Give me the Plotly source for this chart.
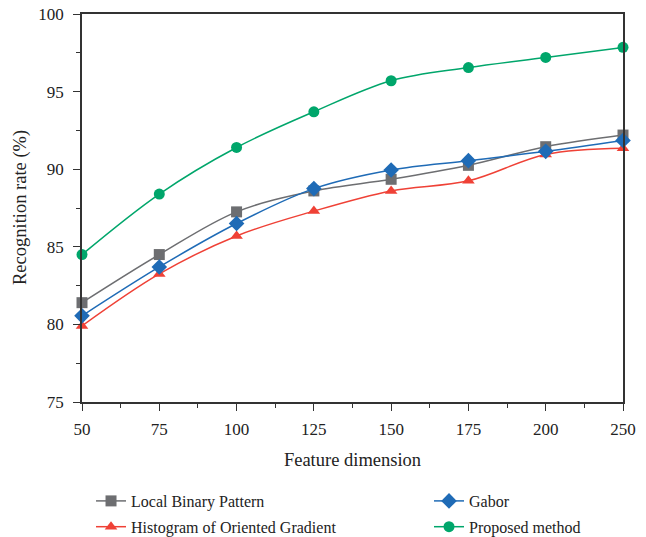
import plotly.graph_objects as go

dims = ["50", "75", "100", "125", "150", "175", "200", "250"]
lbp = [81.4, 84.5, 87.25, 88.6, 89.35, 90.25, 91.45, 92.2]
gabor = [80.55, 83.7, 86.5, 88.75, 89.95, 90.55, 91.15, 91.85]
hog = [79.9, 83.25, 85.7, 87.3, 88.6, 89.25, 90.95, 91.35]
proposed = [84.5, 88.4, 91.4, 93.7, 95.7, 96.55, 97.2, 97.85]

xpos = list(range(len(dims)))

series = [
    ("Local Binary Pattern", lbp, "#6d6e71", "square", "legend"),
    ("Histogram of Oriented Gradient", hog, "#ef4136", "triangle-up", "legend"),
    ("Gabor", gabor, "#1f6bb6", "diamond", "legend2"),
    ("Proposed method", proposed, "#00a66b", "circle", "legend2"),
]

fig = go.Figure()
for name, vals, color, sym, leg in series:
    fig.add_trace(go.Scatter(
        x=xpos, y=vals, name=name, mode="lines+markers",
        line=dict(color=color, width=1.5, shape="spline"),
        marker=dict(symbol=sym, size=11 if sym != "diamond" else 12, color=color),
        cliponaxis=False, legend=leg, legendgroup=name,
    ))

font_family = "Liberation Serif, DejaVu Serif, serif"
legend_common = dict(
    orientation="v", xref="container", yref="container",
    xanchor="left", yanchor="top",
    font=dict(size=16, family=font_family),
    tracegroupgap=2, bgcolor="rgba(0,0,0,0)",
)
fig.update_layout(
    width=646, height=537,
    margin=dict(l=82, r=23, t=14, b=135, autoexpand=False),
    plot_bgcolor="white", paper_bgcolor="white",
    font=dict(family=font_family, size=17, color="#222"),
    showlegend=True,
    legend=dict(x=0.1409, y=0.0987, **legend_common),
    legend2=dict(x=0.6641, y=0.0987, **legend_common),
    xaxis=dict(
        range=[0, 7], tickvals=xpos, ticktext=dims,
        showgrid=False, zeroline=False,
        showline=True, linecolor="#333", linewidth=1.5, mirror=True,
        ticks="outside", ticklen=7, tickwidth=1.3, tickcolor="#333",
        ticklabelstandoff=4, ticklabeloverflow="allow",
        minor=dict(dtick=0.5, ticks="outside", ticklen=4, tickcolor="#333", showgrid=False),
        title=dict(text="Feature dimension", font=dict(size=18.5), standoff=15),
    ),
    yaxis=dict(
        range=[75, 100], dtick=5,
        showgrid=False, zeroline=False,
        showline=True, linecolor="#333", linewidth=1.5, mirror=True,
        ticks="outside", ticklen=7, tickwidth=1.3, tickcolor="#333",
        ticklabelstandoff=6, ticklabeloverflow="allow",
        minor=dict(dtick=2.5, ticks="outside", ticklen=4, tickcolor="#333", showgrid=False),
    ),
    annotations=[dict(
        text="Recognition rate (%)", textangle=-90,
        xref="paper", yref="paper", x=-0.1146, y=0.5,
        xanchor="center", yanchor="middle", showarrow=False,
        font=dict(size=18.5, family=font_family, color="#222"),
    )],
)

fig.write_html("out.html", config={"displayModeBar": False},
               post_script="document.body.style.margin='0';")
